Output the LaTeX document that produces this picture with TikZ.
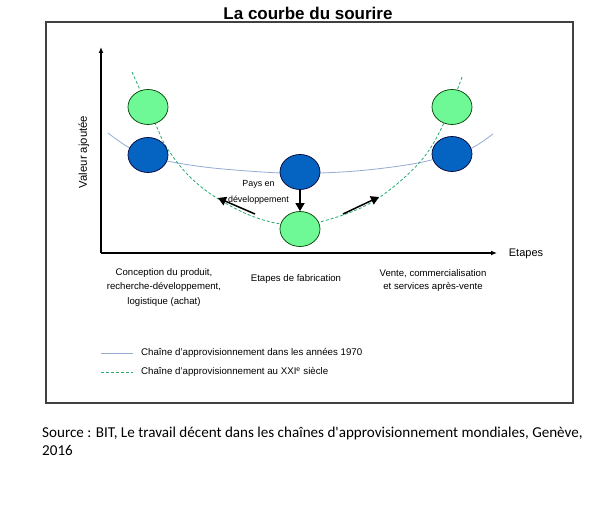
\documentclass[tikz,border=0pt]{standalone}
\usepackage{fontspec}
\setmainfont{Liberation Sans}
\newfontfamily\calibri{Carlito}
\usetikzlibrary{shapes.geometric,arrows.meta}
\definecolor{circblue}{RGB}{5,99,193}
\definecolor{circgreen}{RGB}{110,248,150}
\definecolor{oldline}{RGB}{150,172,212}
\definecolor{newline}{RGB}{40,170,110}
\tikzset{
  bluecirc/.style={ellipse,draw=black!80!blue,line width=0.7pt,fill=circblue,minimum width=40pt,minimum height=35pt,inner sep=0pt},
  greencirc/.style={ellipse,draw=black!75!green,line width=0.7pt,fill=circgreen,minimum width=40pt,minimum height=35pt,inner sep=0pt},
  axisline/.style={line width=1.3pt,-{Latex[length=6pt,width=5pt]}},
  bigarrow/.style={line width=1.5pt,-{Triangle[length=8pt,width=9pt]}},
  oldcurve/.style={draw=oldline,line width=0.8pt},
  newcurve/.style={draw=newline,line width=0.8pt,dash pattern=on 3pt off 2pt},
  lbl/.style={font=\fontsize{9.6}{14.5}\selectfont,align=center,inner sep=0pt},
  leg/.style={font=\fontsize{9.7}{11}\selectfont,anchor=west,inner sep=0pt}
}
\begin{document}
\begin{tikzpicture}[x=1pt,y=-1pt]
\useasboundingbox[fill=white] (0,0) rectangle (611,505);
% title
\node[font=\bfseries\fontsize{17}{20}\selectfont,inner sep=0pt] (title) at (308,13) {La courbe du sourire};
% frame
\draw[line width=1.3pt,draw=black!75] (46,22) rectangle (573,403);
% axes
\coordinate (O) at (101,253);
\coordinate (ytip) at (101,47);
\coordinate (xtip) at (497,253);
\draw[axisline] (O) -- (ytip);
\draw[axisline] (O) -- (xtip);
\node[font=\fontsize{11.3}{13}\selectfont,rotate=90,inner sep=0pt] (ylab) at (84,152) {Valeur ajoutée};
\node[font=\fontsize{11}{13}\selectfont,inner sep=0pt] (xlab) at (526,254) {Etapes};
% curves
\draw[oldcurve] plot[smooth,tension=0.6] coordinates {(108,133) (128,147) (148,155) (167,161) (213,168) (280,173) (320,173) (367,170) (418,163) (452,154) (472,148) (493,134)};
\draw[newcurve] plot[smooth,tension=0.6] coordinates {(132,72) (155,123) (167,148) (190,177) (220,200) (260,219) (300,225) (343,215) (380,197) (420,162) (443,125) (462,77)};
% circles
\node[greencirc] (gtl) at (148,107) {};
\node[bluecirc] (bl) at (148,155) {};
\node[bluecirc] (bm) at (300,172) {};
\node[greencirc] (gb) at (300,229) {};
\node[greencirc] (gtr) at (452,107) {};
\node[bluecirc] (br) at (452,154) {};
% arrows
\draw[bigarrow] (bm.south) -- (gb.north);
\coordinate (la1) at (255,214);
\coordinate (la2) at (218,198);
\coordinate (ra1) at (343,214);
\coordinate (ra2) at (379,197);
\draw[bigarrow] (la1) -- (la2);
\draw[bigarrow] (ra1) -- (ra2);
\node[font=\fontsize{8.9}{16}\selectfont,align=center,inner sep=0pt] (pays) at (258.5,192) {Pays en\\développement};
% stage labels
\node[lbl] (s1) at (164,287.5) {Conception du produit,\\recherche-développement,\\logistique (achat)};
\node[lbl] (s2) at (296,279) {Etapes de fabrication};
\node[lbl,font=\fontsize{9.6}{13.5}\selectfont] (s3) at (433,280.5) {Vente, commercialisation\\et services après-vente};
% legend
\coordinate (l1a) at (101,353);
\coordinate (l1b) at (133,353);
\coordinate (l2a) at (101,372);
\coordinate (l2b) at (133,372);
\draw[oldcurve] (l1a) -- (l1b);
\draw[newcurve] (l2a) -- (l2b);
\node[leg] (leg1) at (141,353) {Chaîne d’approvisionnement dans les années 1970};
\node[leg] (leg2) at (141,372) {Chaîne d’approvisionnement au XXI\textsuperscript{e} siècle};
% source
\node[font=\calibri\fontsize{15.1}{18}\selectfont,align=left,anchor=base west,inner sep=0pt] (src) at (42,455) {Source : BIT, Le travail décent dans les chaînes d'approvisionnement mondiales, Genève,\\2016};
\end{tikzpicture}
\end{document}
